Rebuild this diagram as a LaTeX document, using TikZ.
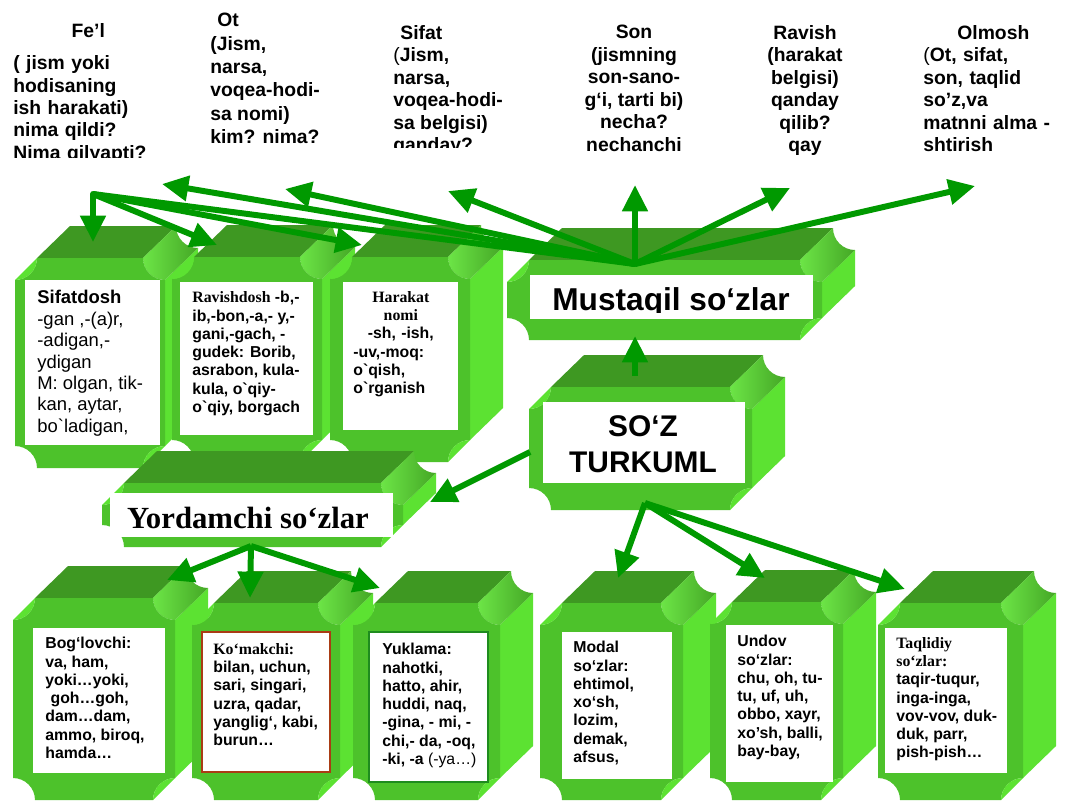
\documentclass[tikz,border=0pt]{standalone}
\usepackage{fontspec}
\setmainfont{Liberation Sans}
\newfontfamily\timesfont{Liberation Serif}
\usetikzlibrary{arrows.meta,calc}

\definecolor{frontgreen}{RGB}{77,194,43}
\definecolor{topgreen}{RGB}{62,152,34}
\definecolor{sidegreen}{RGB}{92,226,50}
\definecolor{arrowgreen}{RGB}{0,153,0}
\definecolor{komborder}{RGB}{170,60,20}
\definecolor{yukborder}{RGB}{30,140,30}

\newcommand{\grv}{\textasciigrave}
\def\bxr{22}
\def\bxdx{33}
\def\bxdy{32}

% x0 y0 x1 y1 of the front face
\newcommand{\greencube}[4]{%
  \fill[sidegreen] (#3,#2+\bxr) -- ++(\bxdx,-\bxdy) -- (#3+\bxdx,#4-\bxr-\bxdy) -- (#3,#4-\bxr) -- cycle;
  \fill[topgreen] (#1+\bxr,#2) -- ++(\bxdx,-\bxdy) -- (#3-\bxr+\bxdx,#2-\bxdy) -- (#3-\bxr,#2) -- cycle;
  \shade[hollow] (#3-\bxr,#2) arc[start angle=180,end angle=90,radius=\bxr] -- ++(\bxdx,-\bxdy) arc[start angle=90,end angle=180,radius=\bxr] -- cycle;
  \fill[frontgreen] (#1+\bxr,#2) -- (#3-\bxr,#2) arc[start angle=180,end angle=90,radius=\bxr] -- (#3,#4-\bxr) arc[start angle=270,end angle=180,radius=\bxr] -- (#1+\bxr,#4) arc[start angle=0,end angle=-90,radius=\bxr] -- (#1,#2+\bxr) arc[start angle=90,end angle=0,radius=\bxr] -- cycle;
  \fill[sidegreen] (#1+\bxr,#2) arc[start angle=0,end angle=90,radius=\bxr] -- cycle;
  \fill[sidegreen] (#3,#4-\bxr) arc[start angle=270,end angle=180,radius=\bxr] -- cycle;
}

\tikzset{
  hollow/.style={left color=sidegreen!90!white, right color=topgreen!80!sidegreen},
  toplabel/.style={font=\bfseries\fontsize{11}{12.8}\selectfont, inner sep=0pt},
  boxtxt/.style={font=\bfseries\fontsize{9}{10.4}\selectfont, inner sep=0pt, align=left, anchor=north west},
  greenline/.style={draw=arrowgreen, line width=3.4pt, line cap=round},
  greenarrow/.style={draw=arrowgreen, line width=3.4pt, -{Triangle[length=15pt,width=14pt]}}
}

\begin{document}
\begin{tikzpicture}[x=0.02cm, y=-0.02cm]
  \useasboundingbox (0,0) rectangle (1077,802);
  \fill[white] (0,0) rectangle (1077,802);
  \clip (0,0) rectangle (1077,802);

  \begin{scope}
    \clip (0,0) rectangle (1077,157);
    \node [toplabel, text width=3cm, align=left, anchor=north west] at (13,23) (fel) {\centering Fe’l\par\vspace{5.5pt}\raggedright ( jism yoki\\ hodisaning\\ ish harakati)\\ nima qildi?\\ Nima qilyapti?};
    \node [toplabel, font=\bfseries\fontsize{11}{13.3}\selectfont, align=left, anchor=north west] at (210,13) (ot) {\hspace*{4pt}Ot\\ (Jism,\\ narsa,\\ voqea-hodi-\\ sa nomi)\\ kim? nima?};
    \node [toplabel, align=center, anchor=north] at (634,25) (son) {Son\\ (jismning\\ son-sano-\\ g‘i, tarti bi)\\ necha?\\ nechanchi};
    \node [toplabel, align=center, anchor=north] at (805,25) (ravish) {Ravish\\ (harakat\\ belgisi)\\ qanday\\ qilib?\\ qay};
    \node [toplabel, text width=2.8cm, align=left, anchor=north west] at (923,25) (olmosh) {\centering Olmosh\par\raggedright {\mdseries(}Ot, sifat,\\ son, taqlid\\ so’z,va\\ matnni alma -\\ shtirish};
  \end{scope}
  \begin{scope}
    \clip (0,0) rectangle (1077,147);
    \node [toplabel, align=left, anchor=north west] at (393,25) (sifat) {\hspace*{4pt}Sifat\\ {\mdseries(}Jism,\\ narsa,\\ voqea-hodi-\\ sa belgisi)\\ qanday?};
  \end{scope}

  \greencube{15}{258}{165}{468}
  \fill[white] (25,280) rectangle (160,445);
  \node [boxtxt, font=\fontsize{10.5}{12.2}\selectfont] at (37,290) (sifatdosh) {\textbf{Sifatdosh}\\ -gan ,-(a)r,\\ -adigan,-\\ ydigan\\ M: olgan, tik-\\ kan, aytar,\\ bo\grv ladigan,};

  \greencube{172}{257}{322}{462}
  \fill[white] (180,282) rectangle (313,435);
  \node [boxtxt] at (192,291) (ravishdosh) {{\timesfont Ravishdosh} -b,-\\ ib,-bon,-a,- y,-\\ gani,-gach, -\\ gudek: Borib,\\ asrabon, kula-\\ kula, o\grv qiy-\\ o\grv qiy, borgach};

  \greencube{330}{257}{470}{462}
  \fill[white] (343,282) rectangle (458,430);
  \node [boxtxt, text width=1.9cm] at (353,291) (harakat) {\centering {\timesfont Harakat}\\ {\timesfont nomi}\\ -sh, -ish,\par\raggedright -uv,-moq:\\ o\grv qish,\\ o\grv rganish};

  \greencube{507}{260}{822}{340}
  \fill[white] (530,275) rectangle (813,319);
  \begin{scope}
    \clip (530,275) rectangle (813,312);
    \node [inner sep=0pt, anchor=base, font=\bfseries\fontsize{18}{20}\selectfont] at (671,310) (mustaqil) {Mustaqil so‘zlar};
  \end{scope}

  \greencube{529}{387}{752}{510}
  \fill[white] (543,402) rectangle (745,483);
  \node [inner sep=0pt, align=center, font=\bfseries\fontsize{17}{20.4}\selectfont] at (643,444) (soz) {SO‘Z\\ TURKUML};

  \greencube{102}{483}{403}{547}
  \fill[white] (110,493) rectangle (393,537);
  \node [inner sep=0pt, anchor=base, font=\timesfont\bfseries\fontsize{17.5}{20}\selectfont] at (248,528) (yordamchi) {Yordamchi so‘zlar};

  \greencube{13}{598}{175}{800}
  \fill[white] (33,628) rectangle (165,773);
  \node [boxtxt] at (45,637) (boglovchi) {Bog‘lovchi:\\ va, ham,\\ yoki…yoki,\\ \hspace*{3pt}goh…goh,\\ dam…dam,\\ ammo, biroq,\\ hamda…};

  \greencube{192}{603}{340}{800}
  \filldraw[fill=white, draw=komborder, line width=1.1pt] (202,632) rectangle (330,772);
  \node [boxtxt] at (213,643) (komakchi) {{\timesfont Ko‘makchi:}\\ bilan, uchun,\\ sari, singari,\\ uzra, qadar,\\ yanglig‘, kabi,\\ burun…};

  \greencube{353}{603}{500}{800}
  \filldraw[fill=white, draw=yukborder, line width=1.1pt] (369,632) rectangle (488,782);
  \node [boxtxt] at (382,643) (yuklama) {Yuklama:\\ nahotki,\\ hatto, ahir,\\ huddi, naq,\\ -gina, - mi, -\\ chi,- da, -oq,\\ -ki, -a {\mdseries (-ya…)}};

  \greencube{540}{603}{683}{800}
  \fill[white] (562,632) rectangle (672,779);
  \node [boxtxt] at (573,641) (modal) {Modal\\ so‘zlar:\\ ehtimol,\\ xo‘sh,\\ lozim,\\ demak,\\ afsus,};

  \greencube{710}{602}{843}{800}
  \fill[white] (726,625) rectangle (833,782);
  \node [boxtxt] at (737,635) (undov) {Undov\\ so‘zlar:\\ chu, oh, tu-\\ tu, uf, uh,\\ obbo, xayr,\\ xo’sh, balli,\\ bay-bay,};

  \greencube{878}{603}{1023}{800}
  \fill[white] (885,628) rectangle (1007,773);
  \node [boxtxt] at (896,637) (taqlidiy) {{\timesfont Taqlidiy}\\ {\timesfont so‘zlar:}\\ taqir-tuqur,\\ inga-inga,\\ vov-vov, duk-\\ duk, parr,\\ pish-pish…};

  \coordinate (mustTop) at (635,264);
  \coordinate (felTip) at (162,184);
  \coordinate (otTip) at (285,189);
  \coordinate (sifatTip) at (448,191);
  \coordinate (sonTip) at (635,185);
  \coordinate (ravishTip) at (790,188);
  \coordinate (olmoshTip) at (975,186);
  \coordinate (junc) at (93,194);
  \coordinate (sifdTip) at (93,242);
  \coordinate (ravdTip) at (217,245);
  \coordinate (harTip) at (362,245);
  \coordinate (sozTop) at (635,376);
  \coordinate (mustBot) at (635,336);
  \coordinate (sozLeft) at (530,452);
  \coordinate (yordTip) at (430,502);
  \coordinate (sozBot) at (645,503);
  \coordinate (modTip) at (618,578);
  \coordinate (undTip) at (765,578);
  \coordinate (taqTip) at (905,589);
  \coordinate (yordBot) at (251,546);
  \coordinate (bogTip) at (167,580);
  \coordinate (komTip) at (250,598);
  \coordinate (yukTip) at (380,588);

  \draw [greenline] (mustTop) -- (junc);
  \draw [greenarrow] (junc) -- (sifdTip);
  \draw [greenarrow] (junc) -- (ravdTip);
  \draw [greenarrow] (junc) -- (harTip);

  \draw [greenarrow] (mustTop) -- (felTip);
  \draw [greenarrow] (mustTop) -- (otTip);
  \draw [greenarrow] (mustTop) -- (sifatTip);
  \draw [greenarrow] (mustTop) -- (sonTip);
  \draw [greenarrow] (mustTop) -- (ravishTip);
  \draw [greenarrow] (mustTop) -- (olmoshTip);

  \draw [greenarrow] (sozTop) -- (mustBot);
  \draw [greenarrow] (sozLeft) -- (yordTip);

  \draw [greenarrow] (sozBot) -- (modTip);
  \draw [greenarrow] (sozBot) -- (undTip);
  \draw [greenarrow] (sozBot) -- (taqTip);

  \draw [greenarrow] (yordBot) -- (bogTip);
  \draw [greenarrow] (yordBot) -- (komTip);
  \draw [greenarrow] (yordBot) -- (yukTip);
\end{tikzpicture}
\end{document}
